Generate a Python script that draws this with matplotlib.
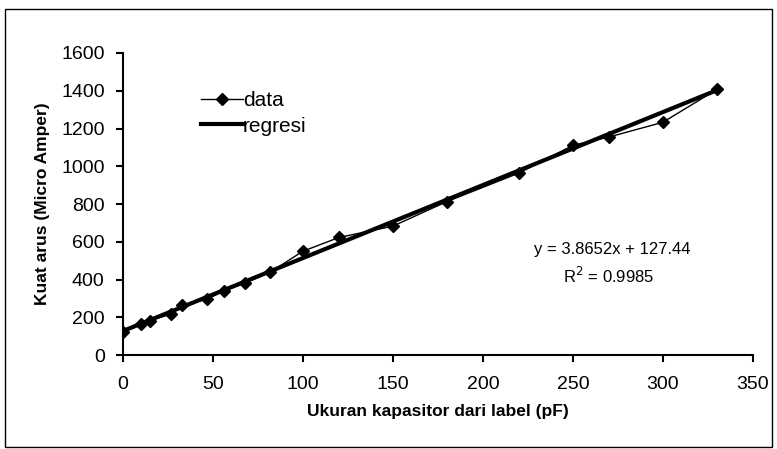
import matplotlib
matplotlib.use('Agg')
import matplotlib.pyplot as plt
import numpy as np
from matplotlib.patches import Rectangle

# capacitor value from label (pF) vs measured current (micro amper)
kapasitor = [0, 10, 15, 27, 33, 47, 56, 68, 82, 100, 120, 150, 180, 220, 250, 270, 300, 330]
arus = [125, 165, 183, 218, 263, 298, 339, 382, 440, 550, 623, 683, 813, 964, 1111, 1155, 1233, 1407]

# regression shown on the chart
slope = 3.8652
intercept = 127.44
r2 = 0.9985

plt.rcParams['font.family'] = ['Liberation Sans', 'DejaVu Sans']

fig = plt.figure(figsize=(7.77, 4.49), dpi=100)
ax = fig.add_axes([0.158, 0.209, 0.811, 0.673])

x = np.array(kapasitor)
ax.plot(x, slope * x + intercept, color='black', lw=3, label='regresi', zorder=2)
ax.plot(kapasitor, arus, color='black', lw=1, marker='D', markersize=6.5,
        label='data', zorder=3)

ax.set_xlim(0, 350)
ax.set_ylim(0, 1600)
ax.set_xticks(range(0, 351, 50))
ax.set_yticks(range(0, 1601, 200))
ax.spines['top'].set_visible(False)
ax.spines['right'].set_visible(False)
ax.spines['left'].set_linewidth(1.5)
ax.spines['bottom'].set_linewidth(1.5)
ax.tick_params(direction='out', length=5, width=1.5, labelsize=14)
ax.tick_params(axis='x', pad=10)
ax.tick_params(axis='y', pad=8)

ax.set_xlabel('Ukuran kapasitor dari label (pF)', fontsize=12.5, fontweight='bold', labelpad=8)
ax.set_ylabel('Kuat arus (Micro Amper)', fontsize=12.5, fontweight='bold', labelpad=8)

handles, labels = ax.get_legend_handles_labels()
ax.legend(handles[::-1], labels[::-1], loc='upper left', bbox_to_anchor=(0.095, 0.935),
          frameon=False, fontsize=15, handlelength=2.0, handletextpad=0.0,
          labelspacing=0.3)

ax.text(272, 560, 'y = %.4fx + %.2f' % (slope, intercept), ha='center', va='center', fontsize=12)
ax.text(270, 420, 'R$^2$ = %.4f' % r2, ha='center', va='center', fontsize=12)

fig.patches.append(Rectangle((0.006, 0.005), 0.987, 0.975, transform=fig.transFigure,
                             fill=False, edgecolor='black', lw=1))

fig.savefig('out.png', dpi=100)
